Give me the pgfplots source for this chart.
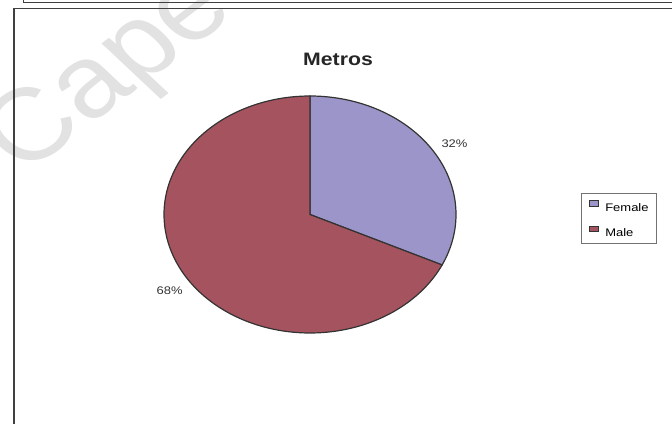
\documentclass[border=0pt]{standalone}
\usepackage{pgfplots}
\pgfplotsset{compat=1.18}
\usepackage{pgfplotstable}
\usepackage{graphicx}
\usepackage{fontspec}
\setmainfont{Liberation Sans}
\definecolor{femcol}{RGB}{155,149,201}
\definecolor{malecol}{RGB}{165,83,94}
\definecolor{edgecol}{RGB}{51,51,51}
\definecolor{framecol}{RGB}{64,64,64}
\definecolor{wmcol}{RGB}{226,226,226}
\pgfplotstableread{
label share
Female 32
Male 68
}\piedata
\pgfplotstablegetelem{0}{share}\of\piedata\pgfmathsetmacro\fs{\pgfplotsretval}%
\pgfplotstablegetelem{1}{share}\of\piedata\pgfmathsetmacro\ms{\pgfplotsretval}%
\pgfmathsetmacro\aA{90}%
\pgfmathsetmacro\aB{90-3.6*\fs}%
\pgfmathsetmacro\aC{\aB-3.6*\ms}%
\begin{document}%
\begin{tikzpicture}
\path[use as bounding box] (0,0) rectangle (672bp,424bp);
\begin{scope}
\clip (0,0) rectangle (672bp,424bp);
\begin{scope}[xscale=1.18]
\node[overlay, transform shape, text=wmcol, rotate=42, font=\fontsize{102bp}{104bp}\selectfont] at (94bp,348bp) {Cape};
\end{scope}
\end{scope}
\begin{axis}[
  at={(0,0)}, anchor=origin,
  scale only axis, width=672bp, height=424bp,
  xmin=0, xmax=672, ymin=0, ymax=424,
  hide axis, clip=false,
  legend image code/.code={\draw[#1, draw=edgecol, line width=0.9bp] (0bp,0.7bp) rectangle (9bp,6.3bp);},
  legend style={at={(axis cs:581,231)}, anchor=north west,
    draw=black!55, line width=0.8bp, inner xsep=8bp, inner ysep=7bp,
    nodes={inner sep=0pt, text height=8bp, text depth=0pt},
    row sep=14.7bp, column sep=6bp, font=\fontsize{11bp}{13bp}\selectfont},
  legend cell align=left,
]
% frame
\draw[framecol, line width=1.5bp] (axis cs:14,0) -- (axis cs:14,415.7) -- (axis cs:672,415.7);
\draw[framecol, line width=1.3bp] (axis cs:23.7,424) -- (axis cs:23.7,421.4) -- (axis cs:672,421.4);
% slices
\addplot[fill=femcol, draw=edgecol, line width=1.2bp, domain=\aB:\aA, samples=90, variable=\t]
  ({310+146*cos(\t)},{209.5+118.5*sin(\t)}) -- (axis cs:310,209.5) -- cycle;
\addlegendentry{\scalebox{1.18}[1]{Female}}
\addplot[fill=malecol, draw=edgecol, line width=1.2bp, domain=\aC:\aB, samples=140, variable=\t]
  ({310+146*cos(\t)},{209.5+118.5*sin(\t)}) -- (axis cs:310,209.5) -- cycle;
\addlegendentry{\scalebox{1.18}[1]{Male}}
% title and labels
\node[anchor=base, font=\bfseries\fontsize{18bp}{20bp}\selectfont, text=black!85] at (axis cs:338,358) {\scalebox{1.18}[1]{Metros}};
\node[anchor=base, font=\fontsize{11bp}{13bp}\selectfont, text=black!80] at (axis cs:454.5,276.7) {\scalebox{1.18}[1]{32\%}};
\node[anchor=base, font=\fontsize{11bp}{13bp}\selectfont, text=black!80] at (axis cs:169.7,129.7) {\scalebox{1.18}[1]{68\%}};
\end{axis}
\end{tikzpicture}%
\end{document}
